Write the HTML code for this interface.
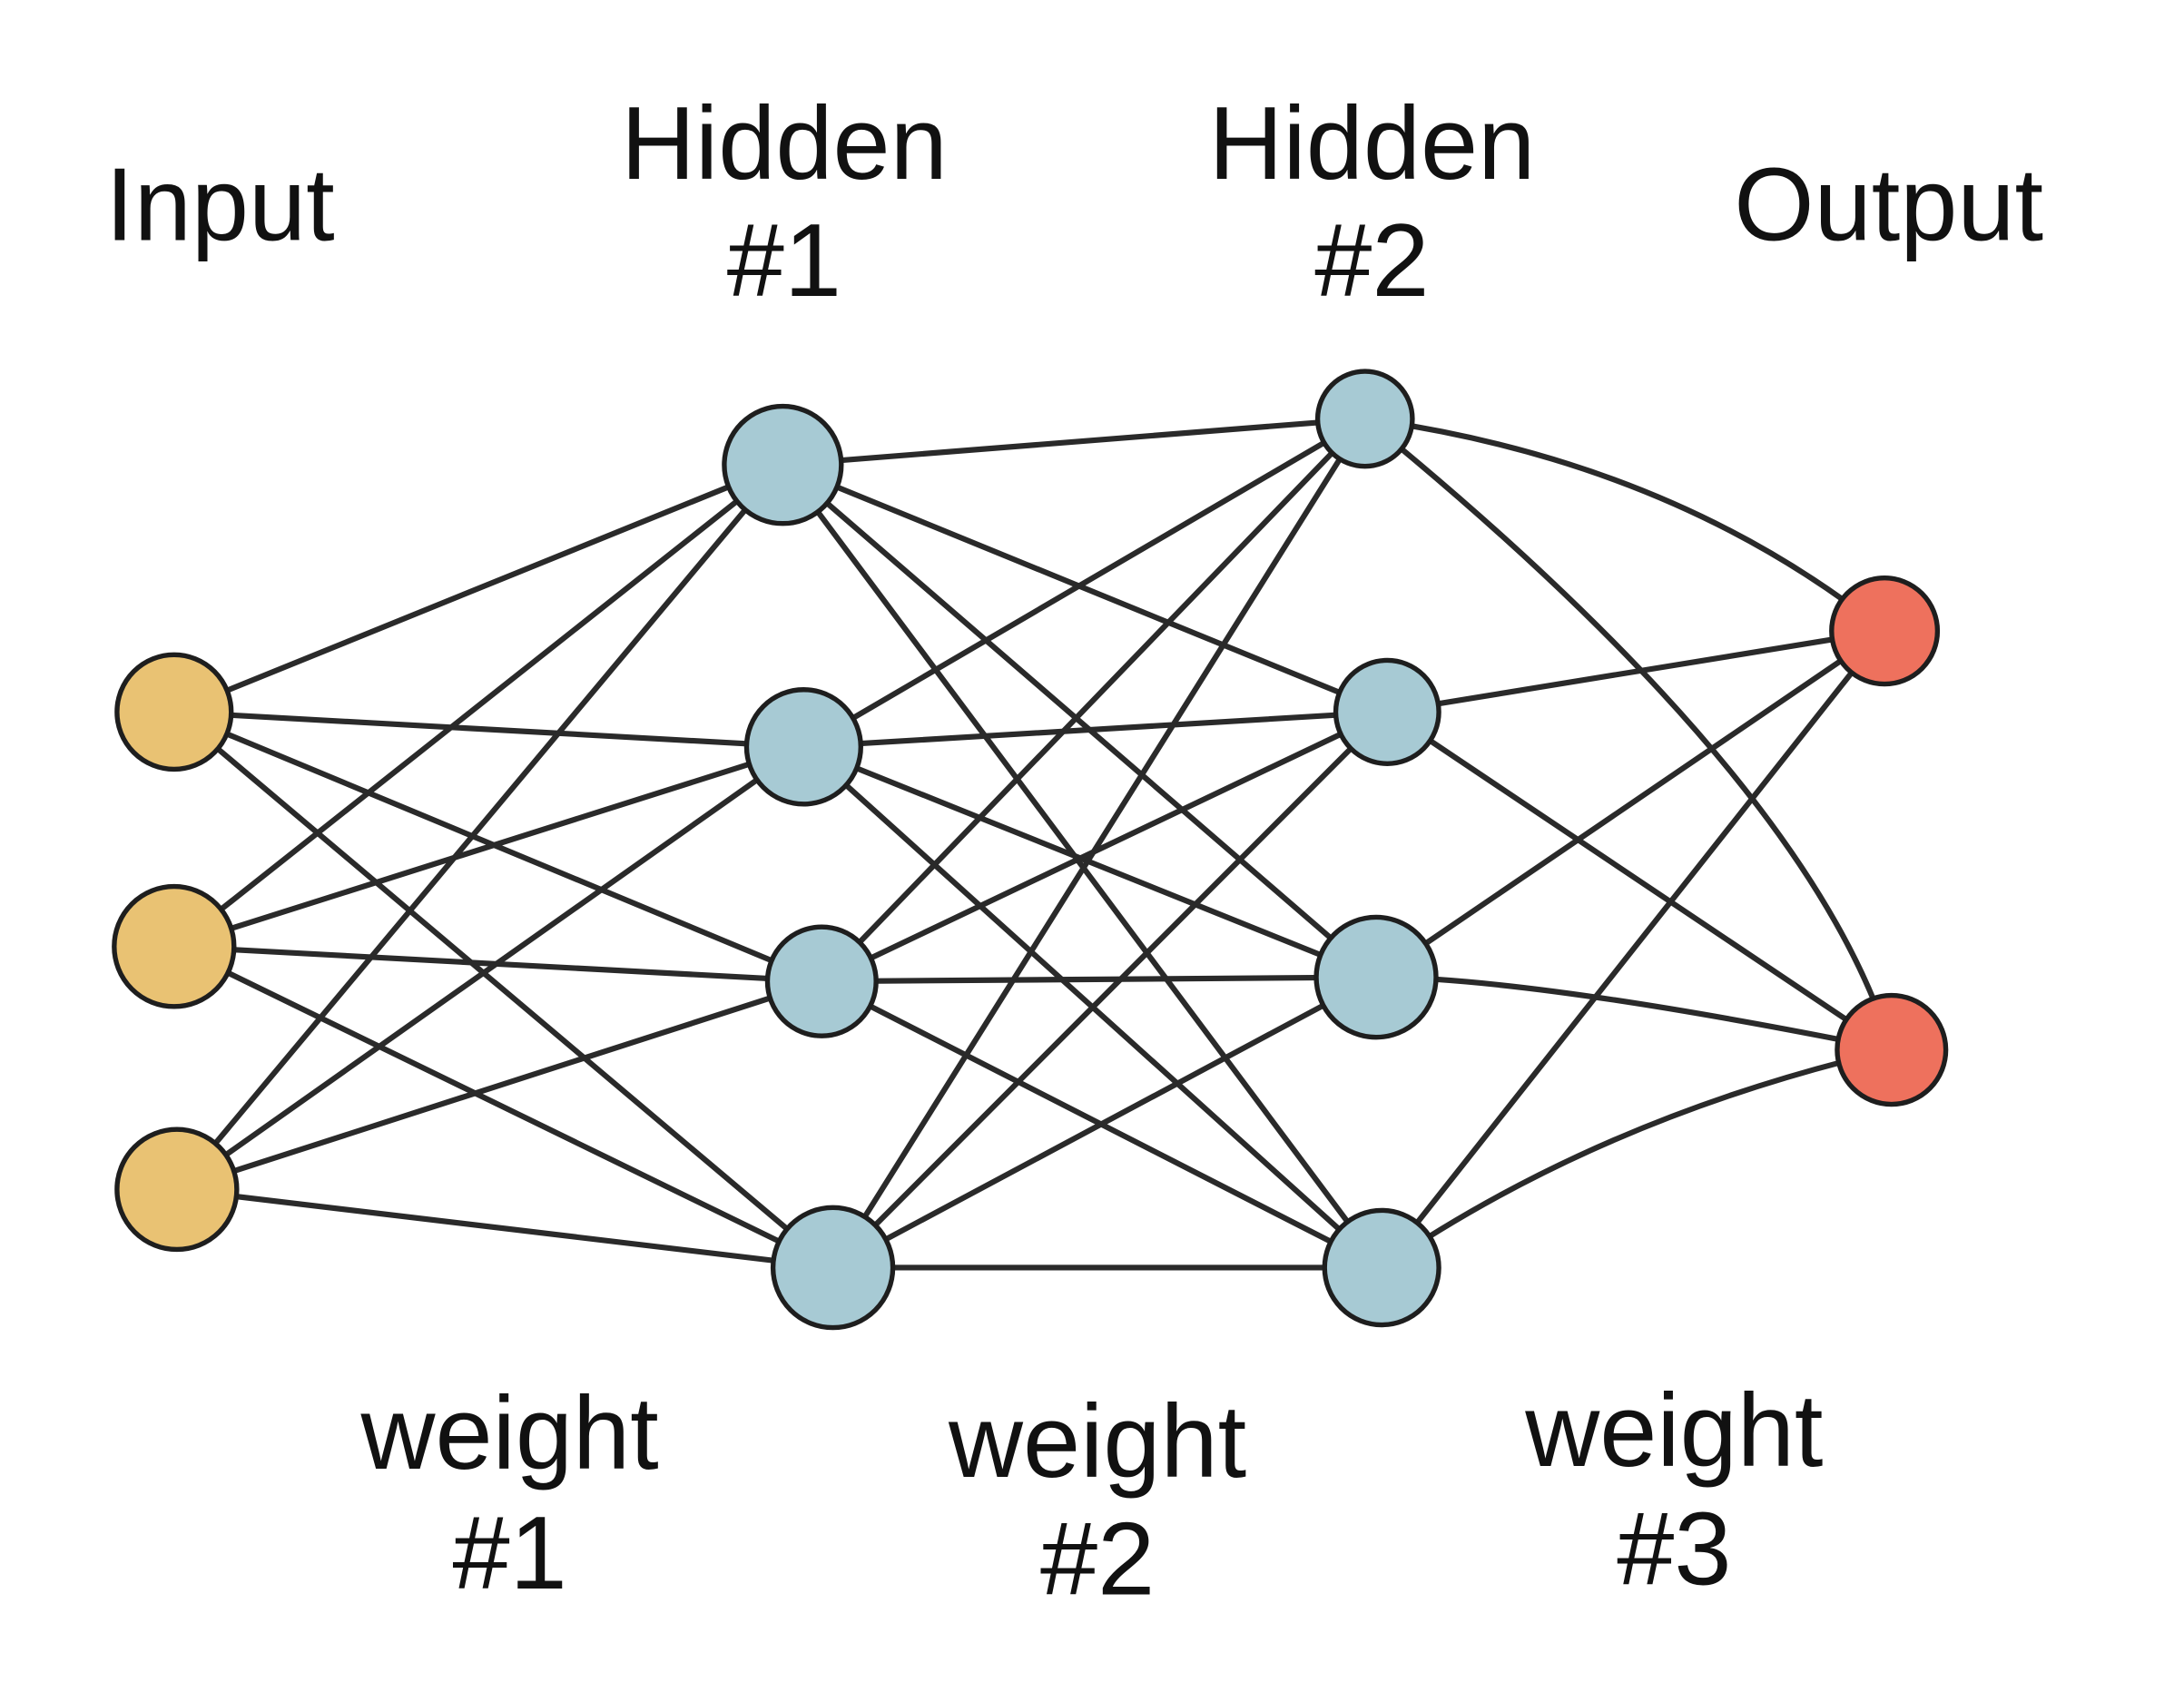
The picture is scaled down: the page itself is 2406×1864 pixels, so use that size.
<!DOCTYPE html>
<html><head><meta charset="utf-8"><style>
html,body{margin:0;padding:0;background:#fff;}
svg{display:block;}
text{font-family:"Liberation Sans",sans-serif;font-size:74px;fill:#111;text-anchor:middle;}
</style></head><body>
<svg width="2406" height="1864" viewBox="0 0 1568 1212" preserveAspectRatio="none">
<g stroke="#2a2a2a" stroke-width="4" fill="none" stroke-linecap="round">
<line x1="125" y1="510" x2="562" y2="333"/><line x1="125" y1="510" x2="577" y2="535"/><line x1="125" y1="510" x2="590" y2="703"/><line x1="125" y1="510" x2="598" y2="908"/>
<line x1="125" y1="678" x2="562" y2="333"/><line x1="125" y1="678" x2="577" y2="535"/><line x1="125" y1="678" x2="590" y2="703"/><line x1="125" y1="678" x2="598" y2="908"/>
<line x1="127" y1="852" x2="562" y2="333"/><line x1="127" y1="852" x2="577" y2="535"/><line x1="127" y1="852" x2="590" y2="703"/><line x1="127" y1="852" x2="598" y2="908"/>
<line x1="562" y1="333" x2="980" y2="300"/><line x1="562" y1="333" x2="996" y2="510"/><line x1="562" y1="333" x2="988" y2="700"/><line x1="562" y1="333" x2="992" y2="908"/>
<line x1="577" y1="535" x2="980" y2="300"/><line x1="577" y1="535" x2="996" y2="510"/><line x1="577" y1="535" x2="988" y2="700"/><line x1="577" y1="535" x2="992" y2="908"/>
<line x1="590" y1="703" x2="980" y2="300"/><line x1="590" y1="703" x2="996" y2="510"/><line x1="590" y1="703" x2="988" y2="700"/><line x1="590" y1="703" x2="992" y2="908"/>
<line x1="598" y1="908" x2="980" y2="300"/><line x1="598" y1="908" x2="996" y2="510"/><line x1="598" y1="908" x2="988" y2="700"/><line x1="598" y1="908" x2="992" y2="908"/>
<path d="M980 300 Q1200 330 1353 452"/><path d="M980 300 Q1300 560 1358 752"/>
<line x1="996" y1="510" x2="1353" y2="452"/><line x1="996" y1="510" x2="1358" y2="752"/>
<line x1="988" y1="700" x2="1353" y2="452"/><path d="M988 700 Q1100 700 1358 752"/>
<line x1="992" y1="908" x2="1353" y2="452"/><path d="M992 908 Q1150 800 1358 752"/>
</g>
<g stroke="#1e1e1e" stroke-width="3.5">
<circle cx="125" cy="510" r="41" fill="#e9c273"/>
<circle cx="125" cy="678" r="43" fill="#e9c273"/>
<circle cx="127" cy="852" r="43" fill="#e9c273"/>
<circle cx="562" cy="333" r="42" fill="#a7cad4"/>
<circle cx="577" cy="535" r="41" fill="#a7cad4"/>
<circle cx="590" cy="703" r="39" fill="#a7cad4"/>
<circle cx="598" cy="908" r="43" fill="#a7cad4"/>
<circle cx="980" cy="300" r="34" fill="#a7cad4"/>
<circle cx="996" cy="510" r="37" fill="#a7cad4"/>
<circle cx="988" cy="700" r="43" fill="#a7cad4"/>
<circle cx="992" cy="908" r="41" fill="#a7cad4"/>
<circle cx="1353" cy="452" r="38" fill="#ee715d"/>
<circle cx="1358" cy="752" r="39" fill="#ee715d"/>
</g>
<text x="158" y="172">Input</text>
<text x="563" y="128">Hidden</text><text x="563" y="212">#1</text>
<text x="985" y="128">Hidden</text><text x="985" y="212">#2</text>
<text x="1356" y="172">Output</text>
<text x="366" y="1052">weight</text><text x="366" y="1138">#1</text>
<text x="788" y="1058">weight</text><text x="788" y="1142">#2</text>
<text x="1202" y="1050">weight</text><text x="1202" y="1135">#3</text>
</svg>
</body></html>
